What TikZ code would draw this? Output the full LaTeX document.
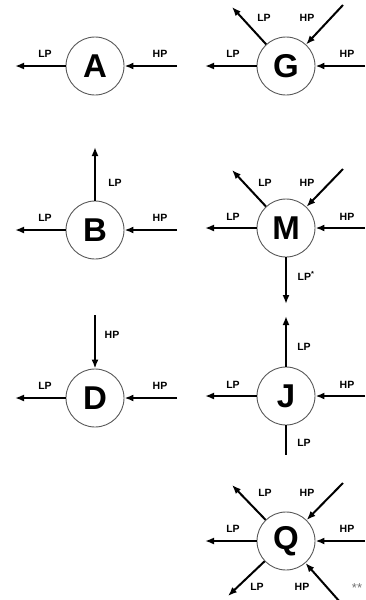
\documentclass[tikz,border=0pt]{standalone}
\usepackage{fontspec}
\setsansfont{Liberation Sans}
\usetikzlibrary{arrows.meta,positioning}

\begin{document}
\begin{tikzpicture}[x=1pt,y=-1pt,
  unit/.style={circle,draw=black!65,line width=0.9pt,minimum size=58pt,inner sep=0pt,
    font=\sffamily\bfseries\fontsize{33}{33}\selectfont},
  lbl/.style={font=\sffamily\bfseries\fontsize{10.5}{10.5}\selectfont,inner sep=0pt},
  flow/.style={-{Latex[length=9pt,width=7pt]},line width=2pt}]
\useasboundingbox (0,0) rectangle (365,600);

% A
\node[unit] (A) at (95,66) {A};
\coordinate (aL) at (15,66);
\coordinate (aR) at (177,66);
\draw[flow] (A) -- (aL);
\draw[flow] (aR) -- (A);
\node[lbl] (aLP) at (45,54) {LP};
\node[lbl] (aHP) at (160,54) {HP};

% G
\node[unit] (G) at (286,66) {G};
\coordinate (gL) at (205,66);
\coordinate (gR) at (365,66);
\coordinate (gUL) at (232,7);
\coordinate (gUR) at (343,5);
\draw[flow] (G) -- (gL);
\draw[flow] (gR) -- (G);
\draw[flow] (G) -- (gUL);
\draw[flow] (gUR) -- (G);
\node[lbl] (gLP) at (233,54) {LP};
\node[lbl] (gHP) at (347,54) {HP};
\node[lbl] (gLP2) at (264,18) {LP};
\node[lbl] (gHP2) at (307,18) {HP};

% B
\node[unit] (B) at (95,230) {B};
\coordinate (bL) at (15,230);
\coordinate (bR) at (177,230);
\coordinate (bU) at (95,147);
\draw[flow] (B) -- (bL);
\draw[flow] (bR) -- (B);
\draw[flow] (B) -- (bU);
\node[lbl] (bLP) at (45,218) {LP};
\node[lbl] (bHP) at (160,218) {HP};
\node[lbl] (bLP2) at (115,183) {LP};

% M
\node[unit] (M) at (286,228) {M};
\coordinate (mL) at (205,228);
\coordinate (mR) at (365,228);
\coordinate (mUL) at (232,170);
\coordinate (mUR) at (343,169);
\coordinate (mD) at (286,304);
\draw[flow] (M) -- (mL);
\draw[flow] (mR) -- (M);
\draw[flow] (M) -- (mUL);
\draw[flow] (mUR) -- (M);
\draw[flow] (M) -- (mD);
\node[lbl] (mLP) at (233,217) {LP};
\node[lbl] (mHP) at (347,217) {HP};
\node[lbl] (mLP2) at (265,183) {LP};
\node[lbl] (mHP2) at (307,183) {HP};
\node[lbl] (mLP3) at (306,276) {LP\textsuperscript{*}};

% D
\node[unit] (D) at (95,398) {D};
\coordinate (dL) at (15,398);
\coordinate (dR) at (177,398);
\coordinate (dU) at (95,315);
\draw[flow] (D) -- (dL);
\draw[flow] (dR) -- (D);
\draw[flow] (dU) -- (D);
\node[lbl] (dLP) at (45,386) {LP};
\node[lbl] (dHP) at (112,335) {HP};
\node[lbl] (dHP2) at (160,386) {HP};

% J
\node[unit] (J) at (286,396) {J};
\coordinate (jL) at (205,396);
\coordinate (jR) at (365,396);
\coordinate (jU) at (286,316);
\coordinate (jD) at (286,455);
\draw[flow] (J) -- (jL);
\draw[flow] (jR) -- (J);
\draw[flow] (J) -- (jU);
\draw[line width=2pt] (J) -- (jD);
\node[lbl] (jLP) at (233,385) {LP};
\node[lbl] (jHP) at (347,385) {HP};
\node[lbl] (jLP2) at (304,347) {LP};
\node[lbl] (jLP3) at (304,443) {LP};

% Q
\node[unit] (Q) at (286,541) {Q};
\coordinate (qL) at (205,541);
\coordinate (qR) at (365,541);
\coordinate (qUL) at (232,485);
\coordinate (qUR) at (343,483);
\coordinate (qDL) at (228,596);
\coordinate (qDR) at (340,602);
\draw[flow] (Q) -- (qL);
\draw[flow] (qR) -- (Q);
\draw[flow] (Q) -- (qUL);
\draw[flow] (qUR) -- (Q);
\draw[flow] (Q) -- (qDL);
\draw[flow] (qDR) -- (Q);
\node[lbl] (qLP) at (233,529) {LP};
\node[lbl] (qHP) at (347,529) {HP};
\node[lbl] (qLP2) at (265,493) {LP};
\node[lbl] (qHP2) at (307,493) {HP};
\node[lbl] (qLP3) at (257,587) {LP};
\node[lbl] (qHP3) at (302,587) {HP};
\node[font=\sffamily\fontsize{13}{13}\selectfont,text=black!55,inner sep=0pt] (note) at (357,588) {**};
\end{tikzpicture}
\end{document}
